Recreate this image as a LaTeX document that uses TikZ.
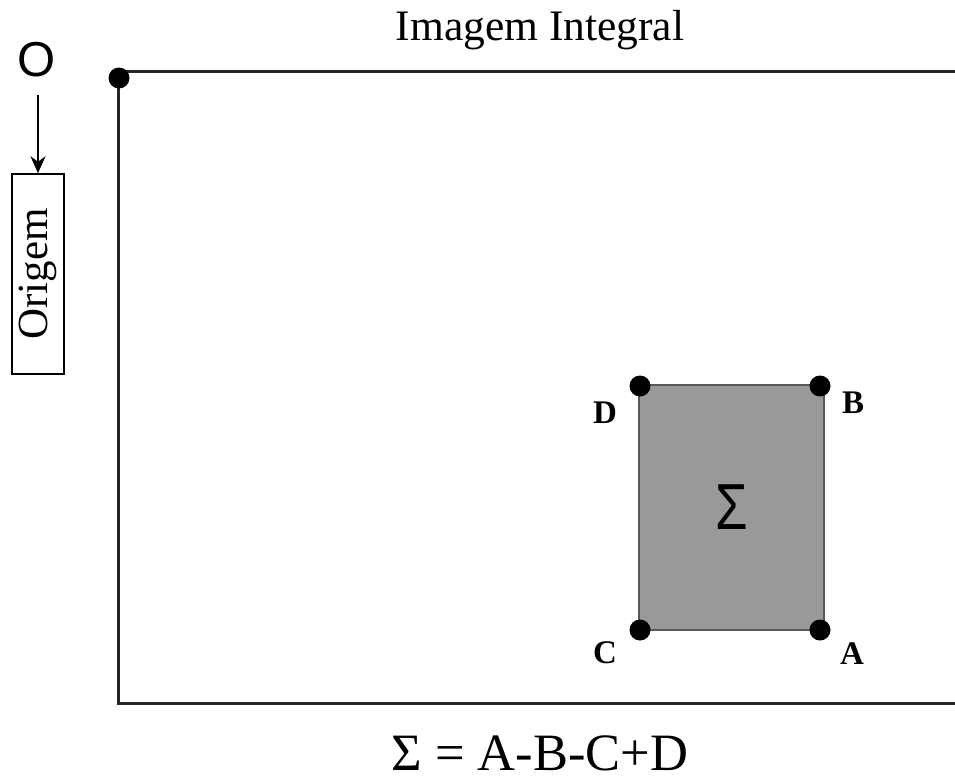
\documentclass[tikz,border=0pt]{standalone}
\usepackage{fontspec}
\setmainfont{Liberation Serif}
\newfontfamily\sansf{Liberation Sans}
\usetikzlibrary{arrows.meta}
\begin{document}
\begin{tikzpicture}[x=1pt,y=-1pt,
  frameline/.style={line width=3pt,draw=black!85},
  cornerdot/.style={circle,fill=black,inner sep=0pt,minimum size=21pt},
  cornerlbl/.style={font=\fontsize{33}{36}\selectfont\bfseries,inner sep=0pt},
]
\useasboundingbox (0,0) rectangle (955,779);
% title
\node[font=\fontsize{43.5}{50}\selectfont,inner sep=0pt] (title) at (540,30) {Imagem Integral};
% frame
\coordinate (tl) at (118,71);
\coordinate (tr) at (956,71);
\coordinate (bl) at (118,703);
\coordinate (br) at (956,703);
\draw[frameline] (tr) -- (tl) -- (bl) -- (br);
\node[cornerdot] (odot) at (119,78) {};
% origin label and box
\node[font=\sansf\fontsize{49}{56}\selectfont,inner sep=0pt] (O) at (37,60) {O};
\node[draw=black,line width=1.5pt,rotate=90,minimum width=200pt,minimum height=52pt,inner sep=0pt,font=\fontsize{43}{50}\selectfont] (orig) at (38,274) {Origem};
\coordinate (arrstart) at (38,95);
\draw[line width=1.5pt,-{Stealth[length=17pt,width=15pt]}] (arrstart) -- (orig.east);
% gray region
\draw[fill=black!40,draw=black!65,line width=2.5pt] (639,385) rectangle (824,630);
\node[font=\sansf\fontsize{62}{70}\selectfont,inner sep=0pt] (sig) at (732,507) {\scalebox{0.85}[1.05]{Σ}};
\node[cornerdot] (Dd) at (640,386) {};
\node[cornerdot] (Bd) at (820,386) {};
\node[cornerdot] (Cd) at (640,630) {};
\node[cornerdot] (Ad) at (820,630) {};
\node[cornerlbl] (D) at (605,413) {D};
\node[cornerlbl] (B) at (853,403) {B};
\node[cornerlbl] (C) at (605,653) {C};
\node[cornerlbl] (A) at (852,654) {A};
% formula
\node[font=\fontsize{52.5}{60}\selectfont,inner sep=0pt,text depth=0pt,anchor=base] (form) at (540,770) {Σ = A-B-C+D};
\end{tikzpicture}
\end{document}
